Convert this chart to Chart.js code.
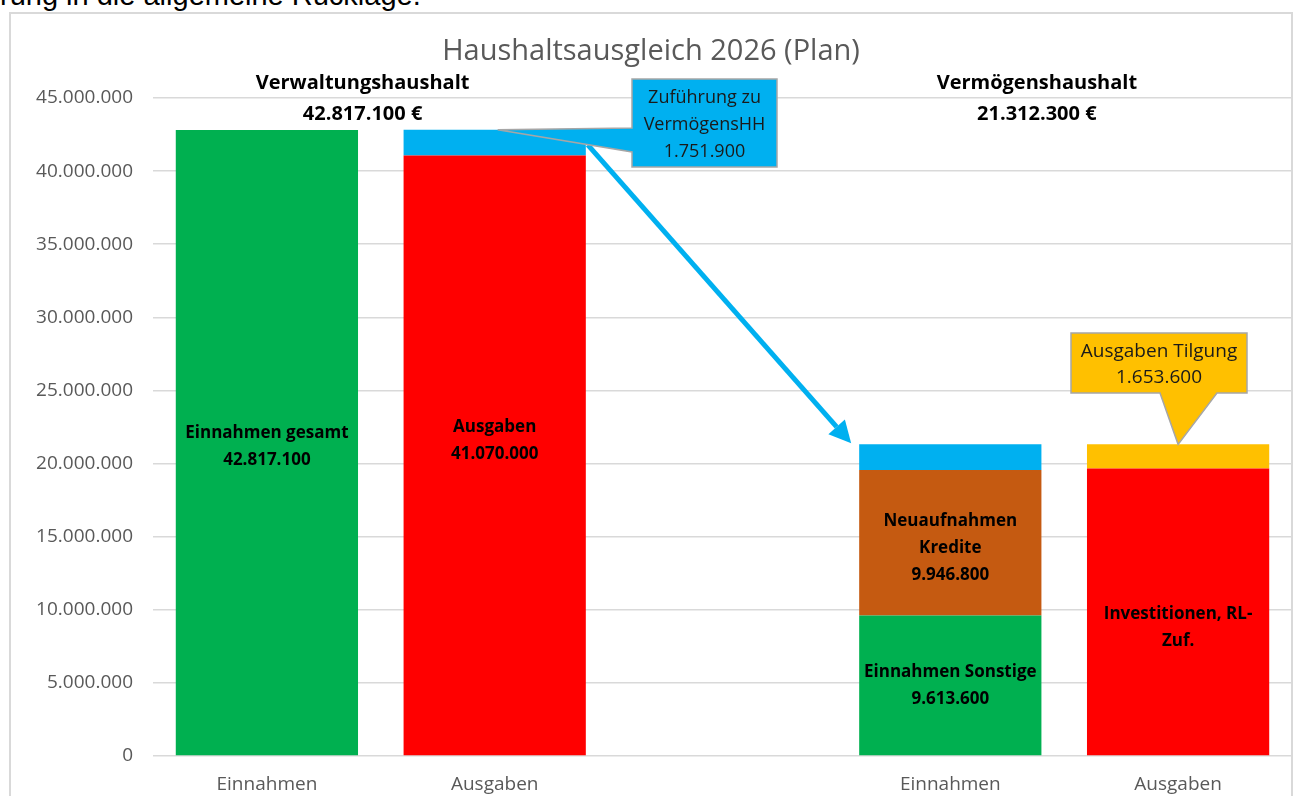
<!DOCTYPE html>
<html>
<head>
<meta charset="utf-8">
<script src="https://cdn.jsdelivr.net/npm/chart.js@4.4.1/dist/chart.umd.min.js"></script>
<style>
  html, body { margin: 0; padding: 0; background: #fff; }
  #page { position: relative; width: 1297px; height: 796px; overflow: hidden; }
  #topText { position: absolute; left: 0; top: -19px; font: 29px "Liberation Sans", Arial, sans-serif; line-height: 29px; color: #000; white-space: nowrap; }
  #frame { position: absolute; left: 9px; top: 12px; width: 1280px; height: 820px; border: 2px solid #d9d9d9; }
  #wrap { position: absolute; left: 0; top: 0; width: 1297px; height: 796px; }
</style>
</head>
<body>
<div id="page">
  <div id="topText">rung in die allgemeine Rücklage.</div>
  <div id="frame"></div>
  <div id="wrap"><canvas id="haushaltChart"></canvas></div>
</div>
<script>
// Kategorien (leere Mitte trennt Verwaltungs- und Vermögenshaushalt)
const categories = ["Einnahmen", "Ausgaben", "", "Einnahmen", "Ausgaben"];

// Werte je Segment
const einnahmenWerte = [42817100, null, null, 9613600, null];
const ausgabenWerte = [null, 41070000, null, null, 19658700];
const krediteWerte = [null, null, null, 9946800, null];
const zufuehrungWerte = [null, 1751900, null, 1751900, null];
const tilgungWerte = [null, null, null, null, 1653600];

// Beschriftungen in den Segmenten
const einnahmenLabels = [["Einnahmen gesamt", "42.817.100"], null, null, ["Einnahmen Sonstige", "9.613.600"], null];
const ausgabenLabels = [null, ["Ausgaben", "41.070.000"], null, null, ["Investitionen, RL-", "Zuf."]];
const krediteLabels = [null, null, null, ["Neuaufnahmen", "Kredite", "9.946.800"], null];

const haushaltTitel = ["Verwaltungshaushalt", "Vermögenshaushalt"];
const haushaltSummen = ["42.817.100 €", "21.312.300 €"];
const zufuehrungCallout = ["Zuführung zu", "VermögensHH", "1.751.900"];
const tilgungCallout = ["Ausgaben Tilgung", "1.653.600"];

const yMax = 45000000;
const yStep = 5000000;

const fmt = (v) => String(v).replace(/\B(?=(\d{3})+(?!\d))/g, ".");
const FONT = '"Open Sans", "DejaVu Sans", sans-serif';

// kleine Verschiebungen der Segmentbeschriftung (px), wie im Original
const labelNudge = { "0-0": 4, "1-1": -15, "2-3": 5, "1-4": 16 };

const overlayPlugin = {
  id: "overlay",
  afterDatasetsDraw(chart) {
    const ctx = chart.ctx;
    const xs = chart.scales.x;

    // Segmentbeschriftungen
    const labelSets = [einnahmenLabels, ausgabenLabels, krediteLabels];
    ctx.save();
    ctx.font = `bold 17px ${FONT}`;
    ctx.fillStyle = "#000";
    ctx.textAlign = "center";
    ctx.textBaseline = "middle";
    labelSets.forEach((labels, ds) => {
      const meta = chart.getDatasetMeta(ds);
      labels.forEach((lines, i) => {
        if (!lines) return;
        const el = meta.data[i];
        const cy = (el.y + el.base) / 2 + (labelNudge[ds + "-" + i] || 0);
        const lh = 27;
        lines.forEach((t, k) => {
          ctx.fillText(t, el.x, cy + (k - (lines.length - 1) / 2) * lh);
        });
      });
    });
    ctx.restore();

    // Titel
    ctx.save();
    ctx.textAlign = "center";
    ctx.textBaseline = "middle";
    ctx.fillStyle = "#595959";
    ctx.font = `29px ${FONT}`;
    ctx.fillText("Haushaltsausgleich 2026 (Plan)", 651, 52);

    // Haushaltsüberschriften
    ctx.fillStyle = "#000";
    ctx.font = `bold 20px ${FONT}`;
    const hx = [xs.getPixelForValue(0.42), xs.getPixelForValue(3.38)];
    haushaltTitel.forEach((t, i) => ctx.fillText(t, hx[i], 83));
    haushaltSummen.forEach((t, i) => ctx.fillText(t, hx[i], 114));
    ctx.restore();

    const blue = chart.getDatasetMeta(3).data;
    const gelb = chart.getDatasetMeta(4).data;
    const bar2 = blue[1];
    const bar3 = blue[3];
    const bar4 = gelb[4];

    // Pfeil Zuführung -> Vermögenshaushalt
    const sx = bar2.x + bar2.width / 2 + 2, sy = bar2.y + 15;
    const ex = bar3.x - bar3.width / 2 - 8, ey = bar3.y - 1;
    const ang = Math.atan2(ey - sy, ex - sx);
    const headLen = 22, headW = 11;
    const bx = ex - Math.cos(ang) * headLen, by = ey - Math.sin(ang) * headLen;
    ctx.save();
    ctx.strokeStyle = "#00B0F0";
    ctx.fillStyle = "#00B0F0";
    ctx.lineWidth = 5;
    ctx.beginPath();
    ctx.moveTo(sx, sy);
    ctx.lineTo(bx, by);
    ctx.stroke();
    ctx.beginPath();
    ctx.moveTo(ex, ey);
    ctx.lineTo(bx + Math.sin(ang) * headW, by - Math.cos(ang) * headW);
    ctx.lineTo(bx - Math.sin(ang) * headW, by + Math.cos(ang) * headW);
    ctx.closePath();
    ctx.fill();
    ctx.restore();

    // Callout Zuführung
    const b1 = { l: 632, t: 79, r: 777, b: 167 };
    const tip1 = { x: bar2.x + 3, y: bar2.y };
    ctx.save();
    ctx.beginPath();
    ctx.moveTo(b1.l, b1.t);
    ctx.lineTo(b1.r, b1.t);
    ctx.lineTo(b1.r, b1.b);
    ctx.lineTo(b1.l, b1.b);
    ctx.lineTo(b1.l, 152);
    ctx.lineTo(tip1.x, tip1.y);
    ctx.lineTo(b1.l, 128);
    ctx.closePath();
    ctx.fillStyle = "#00B0F0";
    ctx.fill();
    ctx.strokeStyle = "#a6a6a6";
    ctx.lineWidth = 1.5;
    ctx.stroke();
    ctx.fillStyle = "#1a1a1a";
    ctx.font = `18px ${FONT}`;
    ctx.textAlign = "center";
    ctx.textBaseline = "middle";
    zufuehrungCallout.forEach((t, k) => ctx.fillText(t, (b1.l + b1.r) / 2, 98 + k * 27));
    ctx.restore();

    // Callout Tilgung
    const b2 = { l: 1071, t: 333, r: 1247, b: 393 };
    const tip2 = { x: bar4.x, y: bar4.y };
    ctx.save();
    ctx.beginPath();
    ctx.moveTo(b2.l, b2.t);
    ctx.lineTo(b2.r, b2.t);
    ctx.lineTo(b2.r, b2.b);
    ctx.lineTo(1217, b2.b);
    ctx.lineTo(tip2.x, tip2.y);
    ctx.lineTo(1160, b2.b);
    ctx.lineTo(b2.l, b2.b);
    ctx.closePath();
    ctx.fillStyle = "#FFC000";
    ctx.fill();
    ctx.strokeStyle = "#a6a6a6";
    ctx.lineWidth = 1.5;
    ctx.stroke();
    ctx.fillStyle = "#1a1a1a";
    ctx.font = `19px ${FONT}`;
    ctx.textAlign = "center";
    ctx.textBaseline = "middle";
    tilgungCallout.forEach((t, k) => ctx.fillText(t, (b2.l + b2.r) / 2, 352 + k * 26));
    ctx.restore();
  },
};

const mkSet = (label, data, color) => ({
  label,
  data,
  backgroundColor: color,
  borderWidth: 0,
  barPercentage: 0.8,
  categoryPercentage: 1.0,
});

new Chart(document.getElementById("haushaltChart"), {
  type: "bar",
  data: {
    labels: categories,
    datasets: [
      mkSet("Einnahmen", einnahmenWerte, "#00B050"),
      mkSet("Ausgaben", ausgabenWerte, "#FF0000"),
      mkSet("Neuaufnahmen Kredite", krediteWerte, "#C55A11"),
      mkSet("Zuführung zu VermögensHH", zufuehrungWerte, "#00B0F0"),
      mkSet("Ausgaben Tilgung", tilgungWerte, "#FFC000"),
    ],
  },
  options: {
    responsive: true,
    maintainAspectRatio: false,
    animation: false,
    layout: { padding: { top: 98, right: 5, left: 0, bottom: 0 } },
    plugins: {
      legend: { display: false },
      tooltip: { enabled: false },
      title: { display: false },
    },
    scales: {
      x: {
        stacked: true,
        grid: { display: false, drawTicks: false },
        border: { display: false },
        ticks: { color: "#595959", font: { family: FONT, size: 19 }, padding: 17 },
        afterFit: (s) => { s.height = 40; },
      },
      y: {
        stacked: true,
        min: 0,
        max: yMax,
        grid: { color: "#d9d9d9", lineWidth: 1.5, drawTicks: false },
        border: { display: false },
        ticks: {
          stepSize: yStep,
          color: "#595959",
          font: { family: FONT, size: 19 },
          padding: 20,
          callback: (v) => fmt(v),
        },
        afterFit: (s) => { s.width = 153; },
      },
    },
  },
  plugins: [overlayPlugin],
});
</script>
</body>
</html>
